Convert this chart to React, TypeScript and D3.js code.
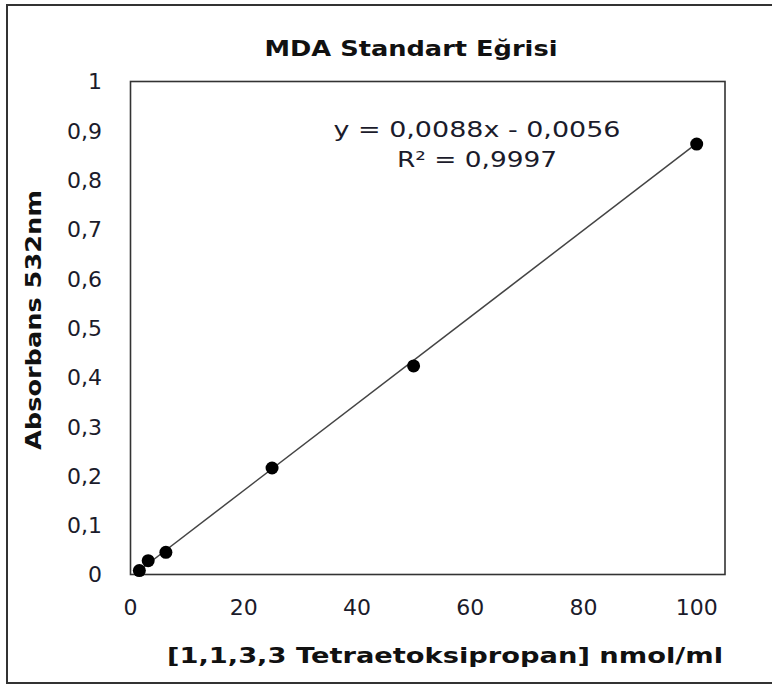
import { useEffect, useRef } from 'react';
import * as d3 from 'd3';

// concentration of 1,1,3,3-tetraethoxypropane (nmol/ml)
const concentrations = [1.5625, 3.125, 6.25, 25, 50, 100];
// absorbance at 532 nm
const absorbances = [0.008, 0.028, 0.045, 0.216, 0.423, 0.873];

const xTicks = [0, 20, 40, 60, 80, 100];
const yTicks = [0, 0.1, 0.2, 0.3, 0.4, 0.5, 0.6, 0.7, 0.8, 0.9, 1];

const slope = 0.0088;
const intercept = -0.0056;
const equationText = 'y = 0,0088x  - 0,0056';
const r2Text = 'R² = 0,9997';

const title = 'MDA  Standart  Eğrisi';
const xTitle = '[1,1,3,3  Tetraetoksipropan]  nmol/ml';
const yTitle = 'Absorbans  532nm';

const W = 772;
const H = 696;
const FONT = '"DejaVu Sans", Verdana, sans-serif';
const TEXT = '#1b1b2b';

const App = () => {
    const svgRef = useRef<SVGSVGElement>(null);

    useEffect(() => {
        const svg = d3.select(svgRef.current);
        svg.selectAll('*').remove();

        const plot = { left: 130.5, right: 725, top: 81.5, bottom: 574.5 };

        const x = d3.scaleLinear().domain([0, 105]).range([plot.left, plot.right]);
        const y = d3.scaleLinear().domain([0, 1]).range([plot.bottom, plot.top]);

        /* background + outer frame */
        svg.append('rect').attr('width', W).attr('height', H).attr('fill', '#fff');
        svg.append('rect')
            .attr('x', 7).attr('y', 5)
            .attr('width', W + 10).attr('height', 678)
            .attr('fill', 'none')
            .attr('stroke', '#333')
            .attr('stroke-width', 2);

        /* plot frame */
        svg.append('rect')
            .attr('x', plot.left).attr('y', plot.top)
            .attr('width', plot.right - plot.left)
            .attr('height', plot.bottom - plot.top)
            .attr('fill', 'none')
            .attr('stroke', '#333')
            .attr('stroke-width', 1.6);

        /* title */
        svg.append('text')
            .attr('x', 411).attr('y', 56)
            .attr('text-anchor', 'middle')
            .attr('font-family', FONT)
            .attr('font-weight', 'bold')
            .attr('font-size', 20.5)
            .attr('fill', '#111')
            .attr('textLength', 293)
            .attr('lengthAdjust', 'spacingAndGlyphs')
            .text(title);

        /* y tick labels */
        svg.append('g')
            .selectAll('text')
            .data(yTicks)
            .enter()
            .append('text')
            .attr('x', 102)
            .attr('y', d => y(d))
            .attr('dy', '0.36em')
            .attr('text-anchor', 'end')
            .attr('font-family', FONT)
            .attr('font-size', 22)
            .attr('fill', TEXT)
            .text(d => d3.format('~g')(d).replace('.', ','));

        /* x tick labels */
        svg.append('g')
            .selectAll('text')
            .data(xTicks)
            .enter()
            .append('text')
            .attr('x', d => x(d))
            .attr('y', 615)
            .attr('text-anchor', 'middle')
            .attr('font-family', FONT)
            .attr('font-size', 22)
            .attr('fill', TEXT)
            .text(d => String(d));

        /* axis titles */
        svg.append('text')
            .attr('x', 445).attr('y', 663)
            .attr('text-anchor', 'middle')
            .attr('font-family', FONT)
            .attr('font-weight', 'bold')
            .attr('font-size', 21)
            .attr('fill', '#111')
            .attr('textLength', 556)
            .attr('lengthAdjust', 'spacingAndGlyphs')
            .text(xTitle);

        svg.append('text')
            .attr('transform', 'translate(41,320) rotate(-90)')
            .attr('text-anchor', 'middle')
            .attr('font-family', FONT)
            .attr('font-weight', 'bold')
            .attr('font-size', 21)
            .attr('fill', '#111')
            .attr('textLength', 260)
            .attr('lengthAdjust', 'spacingAndGlyphs')
            .text(yTitle);

        /* linear trendline over the data range */
        const xExtent = d3.extent(concentrations) as [number, number];
        const trend = d3.line<number>()
            .x(d => x(d))
            .y(d => y(slope * d + intercept));
        svg.append('path')
            .attr('d', trend(xExtent))
            .attr('fill', 'none')
            .attr('stroke', '#444')
            .attr('stroke-width', 1.5);

        /* points */
        svg.append('g')
            .selectAll('circle')
            .data(concentrations)
            .enter()
            .append('circle')
            .attr('cx', d => x(d))
            .attr('cy', (_, i) => y(absorbances[i]))
            .attr('r', 6.5)
            .attr('fill', '#000');

        /* equation */
        svg.append('text')
            .attr('x', 477).attr('y', 137)
            .attr('text-anchor', 'middle')
            .attr('font-family', FONT)
            .attr('font-size', 22)
            .attr('fill', TEXT)
            .attr('textLength', 287)
            .attr('lengthAdjust', 'spacingAndGlyphs')
            .text(equationText);

        svg.append('text')
            .attr('x', 477).attr('y', 167)
            .attr('text-anchor', 'middle')
            .attr('font-family', FONT)
            .attr('font-size', 22)
            .attr('fill', TEXT)
            .attr('textLength', 160)
            .attr('lengthAdjust', 'spacingAndGlyphs')
            .text(r2Text);
    }, []);

    return (
        <svg
            ref={svgRef}
            width={W}
            height={H}
            style={{ position: 'absolute', left: 0, top: 0, display: 'block' }}
        />
    );
};

export default App;
